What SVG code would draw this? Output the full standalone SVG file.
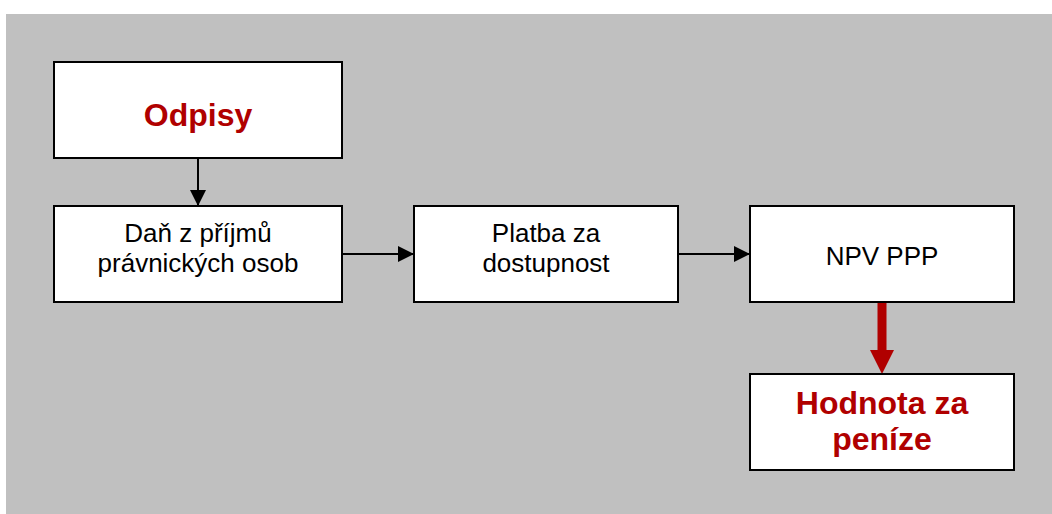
<svg xmlns="http://www.w3.org/2000/svg" width="1052" height="514" viewBox="0 0 1052 514">
  <style>
    .box { fill: #FFFFFF; stroke: #000000; stroke-width: 2; }
    .shadow { fill: #404040; }
    .txt { font-family: "Liberation Sans", Arial, sans-serif; font-size: 26px; fill: #000000; text-anchor: middle; }
    .hl { font-family: "Liberation Sans", Arial, sans-serif; font-size: 32px; font-weight: bold; fill: #B00000; text-anchor: middle; }
    .conn { stroke: #000000; stroke-width: 2; fill: none; }
    .conn-red { stroke: #B00000; stroke-width: 9; fill: none; }
  </style>
  <defs>
    <marker id="arrow" markerUnits="userSpaceOnUse" markerWidth="16" markerHeight="16" refX="16" refY="8" orient="auto">
      <path d="M0,0 L16,8 L0,16 Z" fill="#000000"/>
    </marker>
  </defs>

  <!-- white page with grey panel -->
  <rect x="0" y="0" width="1052" height="514" fill="#FFFFFF"/>
  <rect x="6" y="14" width="1046" height="500" fill="#C0C0C0"/>

  <!-- connectors -->
  <g id="connectors">
    <line class="conn" x1="198" y1="158" x2="198" y2="206" marker-end="url(#arrow)"/>
    <line class="conn" x1="342" y1="254" x2="414" y2="254" marker-end="url(#arrow)"/>
    <line class="conn" x1="678" y1="254" x2="750" y2="254" marker-end="url(#arrow)"/>
    <line class="conn-red" x1="882" y1="302" x2="882" y2="352"/>
    <path d="M870,350 L894,350 L882,374 Z" fill="#B00000"/>
  </g>

  <g id="node-odpisy">
    <rect class="shadow" x="55" y="63" width="288" height="96"/>
    <rect class="box" x="54" y="62" width="288" height="96"/>
    <text class="hl" x="198" y="126">Odpisy</text>
  </g>

  <g id="node-dan">
    <rect class="shadow" x="55" y="207" width="288" height="96"/>
    <rect class="box" x="54" y="206" width="288" height="96"/>
    <text class="txt" x="198" y="242">Daň z příjmů</text>
    <text class="txt" x="198" y="272">právnických osob</text>
  </g>

  <g id="node-platba">
    <rect class="shadow" x="415" y="207" width="264" height="96"/>
    <rect class="box" x="414" y="206" width="264" height="96"/>
    <text class="txt" x="546" y="242">Platba za</text>
    <text class="txt" x="546" y="272">dostupnost</text>
  </g>

  <g id="node-npv">
    <rect class="shadow" x="751" y="207" width="264" height="96"/>
    <rect class="box" x="750" y="206" width="264" height="96"/>
    <text class="txt" x="882" y="265">NPV PPP</text>
  </g>

  <g id="node-hodnota">
    <rect class="shadow" x="751" y="375" width="264" height="96"/>
    <rect class="box" x="750" y="374" width="264" height="96"/>
    <text class="hl" x="882" y="414">Hodnota za</text>
    <text class="hl" x="882" y="450">peníze</text>
  </g>
</svg>
